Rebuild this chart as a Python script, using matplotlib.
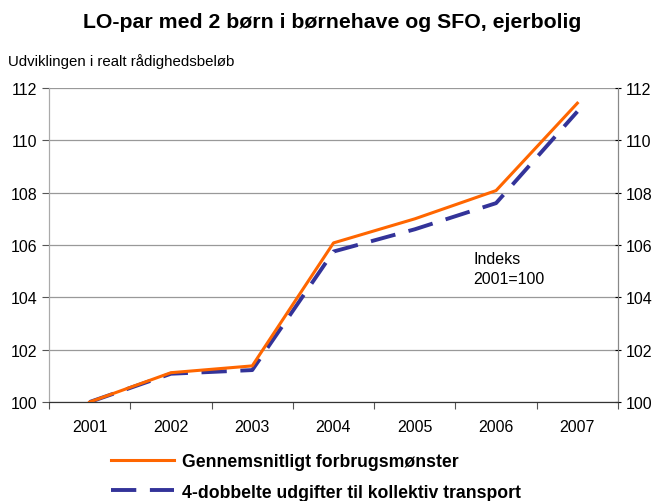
import matplotlib.pyplot as plt

plt.rcParams['font.family'] = ['Liberation Sans', 'DejaVu Sans']

years = ['2001', '2002', '2003', '2004', '2005', '2006', '2007']
gennemsnit = [100.0, 101.12, 101.38, 106.08, 107.0, 108.08, 111.42]
kollektiv = [100.0, 101.08, 101.22, 105.75, 106.6, 107.6, 111.1]
yticks = [100, 102, 104, 106, 108, 110, 112]

fig = plt.figure(figsize=(6.64, 5.02), dpi=100)
ax = fig.add_axes([49 / 664, 1 - 403 / 502, 569 / 664, 314 / 502])

x = list(range(len(years)))
ax.plot(x, gennemsnit, color='#ff6600', lw=2.2, label='Gennemsnitligt forbrugsmønster', zorder=3)
ax.plot(x, kollektiv, color='#333399', lw=2.8, dashes=(6.5, 3.5), label='4-dobbelte udgifter til kollektiv transport', zorder=2)

ax.set_xlim(-0.5, 6.5)
ax.set_ylim(100, 112)
ax.set_yticks(yticks)
ax.set_yticklabels([str(v) for v in yticks], fontsize=11.5)
ax.yaxis.grid(True, color='#999999', lw=0.9)
ax.set_axisbelow(True)

ax.set_xticks([i - 0.5 for i in range(len(years) + 1)])
ax.set_xticklabels([])
ax.set_xticks(x, minor=True)
ax.set_xticklabels(years, minor=True, fontsize=11.5)
ax.tick_params(axis='x', which='minor', length=0, pad=12)
ax.tick_params(axis='x', which='major', length=5, color='#555555')
ax.tick_params(axis='y', length=5, color='#555555', direction='out')

ax2 = ax.twinx()
ax2.set_ylim(100, 112)
ax2.set_yticks(yticks)
ax2.set_yticklabels([str(v) for v in yticks], fontsize=11.5)
ax2.tick_params(axis='y', length=5, color='black', direction='inout', pad=3)

for a in (ax, ax2):
    a.spines['top'].set_visible(False)
    a.spines['left'].set_color('#aaaaaa')
    a.spines['right'].set_color('#888888')
    a.spines['bottom'].set_color('#333333')

ax.text(4.72, 105.1, 'Indeks\n2001=100', fontsize=11.5, ha='left', va='center', linespacing=1.45)

fig.text(0.5, 1 - 22 / 502, 'LO-par med 2 børn i børnehave og SFO, ejerbolig',
         ha='center', va='center', fontsize=15.3, fontweight='bold')
fig.text(8 / 664, 1 - 62 / 502, 'Udviklingen i realt rådighedsbeløb', ha='left', va='center', fontsize=10.8)

h, l = ax.get_legend_handles_labels()
fig.legend(h, l, loc='center left', bbox_to_anchor=(95 / 664, 1 - 478 / 502), frameon=False,
           prop={'weight': 'bold', 'size': 12.7}, handlelength=3.6, labelspacing=0.75, handletextpad=0.45)

fig.savefig('out.png', dpi=100)
